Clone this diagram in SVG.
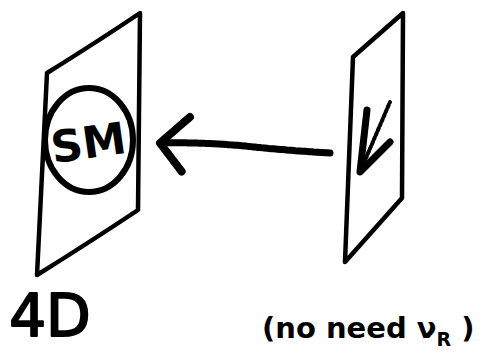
<svg xmlns="http://www.w3.org/2000/svg" width="489" height="357" viewBox="0 0 489 357">
<style>
.plane{fill:none;stroke:#000;stroke-width:4.5;stroke-linejoin:round;stroke-linecap:round}
.ink{fill:none;stroke:#000;stroke-linecap:round;stroke-linejoin:round}
.hand{font-family:"DejaVu Sans","Liberation Sans",sans-serif;font-weight:bold;fill:#000}
</style>
<rect width="489" height="357" fill="#fff"/>
<g id="brane-4d">
<path class="plane" d="M140,13 Q100,40 47,73 L37,275 Q90,242 138,210 L140,13 Z"/>
<ellipse cx="89" cy="140" rx="44" ry="52" class="ink" stroke-width="6"/>
<text class="hand" x="88" y="158" font-size="44" text-anchor="middle" transform="rotate(-8 89 140)">SM</text>
<text class="hand" x="50" y="336" font-size="58" text-anchor="middle" style="font-weight:normal" stroke="#000" stroke-width="2" stroke-linejoin="round">4D</text>
</g>
<g id="brane-right">
<path class="plane" d="M403,13 L353,57 L345,262 L402,198 Z"/>
<path class="ink" stroke-width="7" d="M367,110 L360,172 L390,142"/>
<path class="ink" stroke-width="4" stroke-dasharray="3 2" d="M360,172 L390,102"/>
</g>
<g id="connectors">
<path class="ink" stroke-width="7" stroke-dasharray="3 1.5" d="M330,153 Q280,150 245,146 Q200,142 160,143"/>
<path class="ink" stroke-width="8" stroke-dasharray="4 1.5" d="M190,117 L160,143 L182,172"/>
</g>
<text class="hand" x="262" y="338" font-size="29">(no need ν<tspan font-size="19" dy="8">R</tspan><tspan dy="-8"> )</tspan></text>
</svg>
